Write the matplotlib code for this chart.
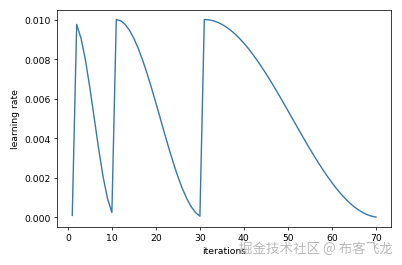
import matplotlib
matplotlib.use("Agg")
import matplotlib.pyplot as plt

# learning rate per iteration (warm-up point, then three cosine cycles: 9, 20, 40 steps)
iterations = list(range(1, 71))
lr_warmup = [0.000100]
lr_cycle1 = [0.009755, 0.009045, 0.007939, 0.006545, 0.005000,
             0.003455, 0.002061, 0.000955, 0.000245]
lr_cycle2 = [0.010000, 0.009938, 0.009755, 0.009455, 0.009045,
             0.008536, 0.007939, 0.007270, 0.006545, 0.005782,
             0.005000, 0.004218, 0.003455, 0.002730, 0.002061,
             0.001464, 0.000955, 0.000545, 0.000245, 0.000062]
lr_cycle3 = [0.010000, 0.009985, 0.009938, 0.009862, 0.009755,
             0.009619, 0.009455, 0.009263, 0.009045, 0.008802,
             0.008536, 0.008247, 0.007939, 0.007612, 0.007270,
             0.006913, 0.006545, 0.006167, 0.005782, 0.005392,
             0.005000, 0.004608, 0.004218, 0.003833, 0.003455,
             0.003087, 0.002730, 0.002388, 0.002061, 0.001753,
             0.001464, 0.001198, 0.000955, 0.000737, 0.000545,
             0.000381, 0.000245, 0.000138, 0.000062, 0.000015]
learning_rate = lr_warmup + lr_cycle1 + lr_cycle2 + lr_cycle3

fig = plt.figure(figsize=(6, 3.97), dpi=67)
ax = fig.add_axes([0.142, 0.143, 0.831, 0.817])
ax.plot(iterations, learning_rate, color="#3a78a8", linewidth=1.5)
ax.set_xlabel("iterations")
ax.set_ylabel("learning rate")
ax.set_xticks([0, 10, 20, 30, 40, 50, 60, 70])

# watermark from the source image
fig.text(0.978, 0.064, "掘金技术社区 @ 布客飞龙", ha="right", va="center",
         fontsize=14.5, color="#b4b4b4", alpha=0.9,
         family=["Noto Sans CJK SC", "DejaVu Sans"])

fig.savefig("out.png", dpi=67)
